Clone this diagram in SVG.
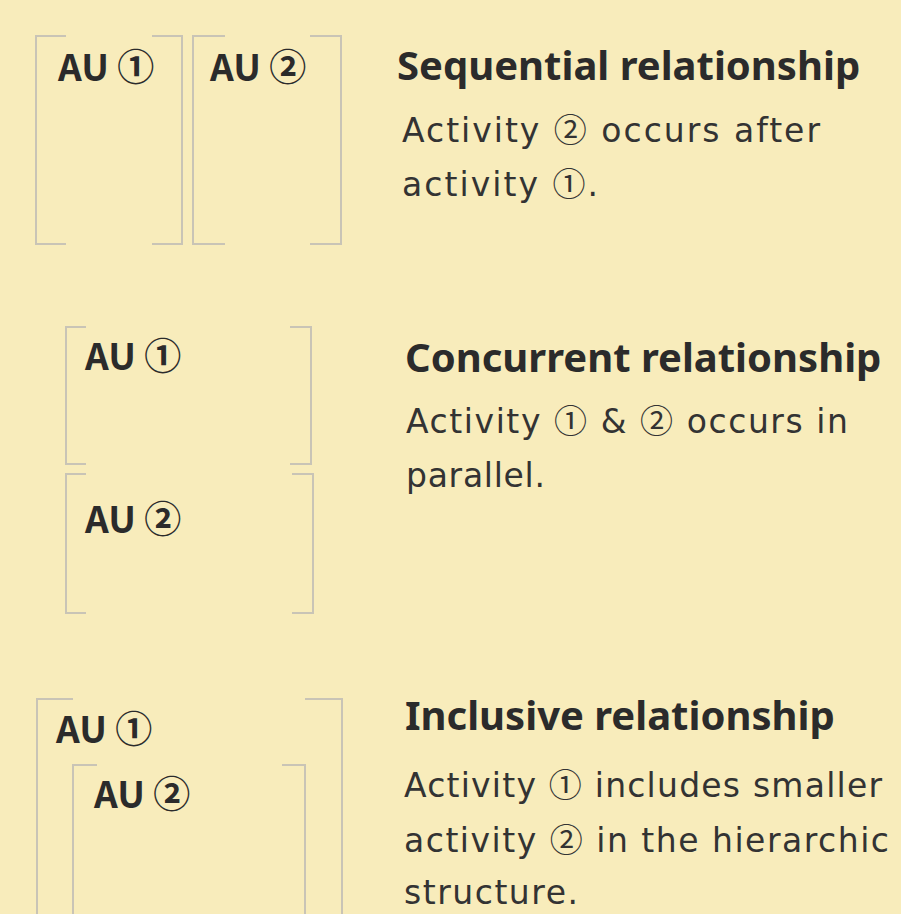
<svg xmlns="http://www.w3.org/2000/svg" width="901" height="914" viewBox="0 0 901 914">
  <style>
    .br { fill: none; stroke: #c9c4b6; stroke-width: 2; }
    .au { font-family: "Noto Sans CJK JP", "Noto Sans", sans-serif; font-weight: bold; font-size: 37px; fill: #2b2b2b; }
    .hd { font-family: "Noto Sans", "Noto Sans CJK JP", sans-serif; font-weight: bold; font-size: 40px; fill: #2b2b2b; }
    .bd { font-family: "DejaVu Sans", "Noto Sans CJK JP", sans-serif; font-size: 33px; fill: #333333; }
    .c { font-family: "Noto Sans CJK JP", "DejaVu Sans", sans-serif; }
  </style>
  <rect x="0" y="0" width="901" height="914" fill="#f8ecbb"/>

  <g id="seq-au1">
    <path class="br" d="M66,36 H36 V244 H66 M152,36 H182 V244 H152"/>
    <text class="au" x="58" y="81">AU ①</text>
  </g>
  <g id="seq-au2">
    <path class="br" d="M225,36 H193 V244 H225 M310,36 H341 V244 H310"/>
    <text class="au" x="210" y="81">AU ②</text>
  </g>
  <g id="seq-desc">
    <text class="hd" x="397" y="80">Sequential relationship</text>
    <text class="bd" x="402" y="142" textLength="418" lengthAdjust="spacing">Activity <tspan class="c">②</tspan> occurs after</text>
    <text class="bd" x="402" y="196" textLength="196" lengthAdjust="spacing">activity <tspan class="c">①</tspan>.</text>
  </g>

  <g id="con-au1">
    <path class="br" d="M86,327 H66 V464 H86 M290,327 H311 V464 H290"/>
    <text class="au" x="85" y="370">AU ①</text>
  </g>
  <g id="con-au2">
    <path class="br" d="M86,474 H66 V613 H86 M292,474 H313 V613 H292"/>
    <text class="au" x="85" y="533">AU ②</text>
  </g>
  <g id="con-desc">
    <text class="hd" x="405" y="372">Concurrent relationship</text>
    <text class="bd" x="406" y="433" textLength="442" lengthAdjust="spacing">Activity <tspan class="c">①</tspan> &amp; <tspan class="c">②</tspan> occurs in</text>
    <text class="bd" x="406" y="487" textLength="139" lengthAdjust="spacing">parallel.</text>
  </g>

  <g id="inc-au1">
    <path class="br" d="M73,699 H37 V916 M305,699 H342 V916"/>
    <text class="au" x="56" y="743">AU ①</text>
  </g>
  <g id="inc-au2">
    <path class="br" d="M97,765 H73 V916 M282,765 H305 V916"/>
    <text class="au" x="94" y="808">AU ②</text>
  </g>
  <g id="inc-desc">
    <text class="hd" x="405" y="730">Inclusive relationship</text>
    <text class="bd" x="404" y="797" textLength="478" lengthAdjust="spacing">Activity <tspan class="c">①</tspan> includes smaller</text>
    <text class="bd" x="404" y="852" textLength="485" lengthAdjust="spacing">activity <tspan class="c">②</tspan> in the hierarchic</text>
    <text class="bd" x="404" y="904" textLength="174" lengthAdjust="spacing">structure.</text>
  </g>

  <g id="connectors"/>
</svg>
